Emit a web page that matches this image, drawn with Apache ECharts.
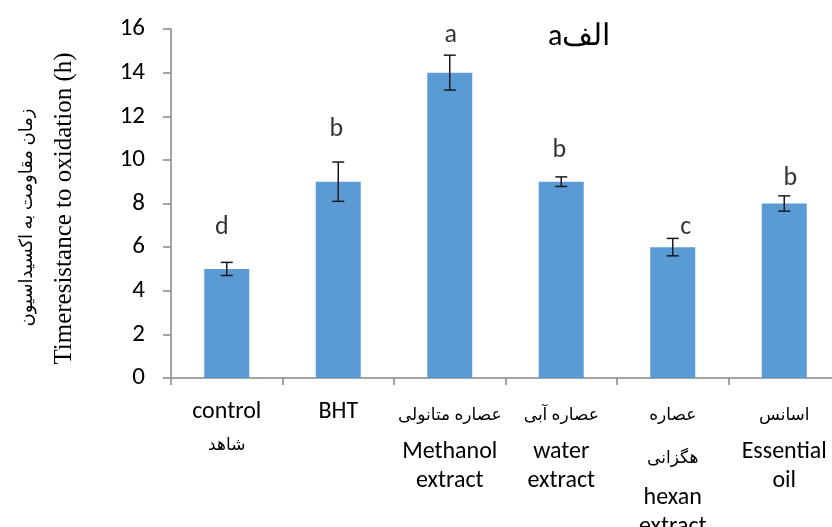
<!DOCTYPE html>
<html><head><meta charset="utf-8">
<script src="https://cdn.jsdelivr.net/npm/echarts@6/dist/echarts.min.js"></script>
<style>html,body{margin:0;padding:0;background:#fff}#c{width:832px;height:527px}</style>
</head><body><div id="c"></div>
<script>
// ---- data ----
const categories = ['control\nشاهد', 'BHT', 'عصاره متانولی\nMethanol\nextract', 'عصاره آبی\nwater\nextract', 'عصاره\nهگزانی\nhexan\nextract', 'اسانس\nEssential\noil'];
const values = [5, 9, 14, 9, 6, 8];
const errors = [0.3, 0.9, 0.8, 0.22, 0.4, 0.35];
const letters = ['d', 'b', 'a', 'b', 'c', 'b'];
const letterHeights = [6.9, 11.4, 15.7, 10.45, 6.9, 9.15];
const yMin = 0, yMax = 16, yStep = 2;
const titleText = 'الفa';
const yNameFa = 'زمان مقاومت به اکسیداسیون';
const yNameEn = 'Timeresistance to oxidation (h)';

// ---- styling ----
const EN = 'Carlito, Lato, "Open Sans", sans-serif';
const FA = '"Liberation Serif", "DejaVu Sans", serif';
const letterOffsets = [[-5, 0], [-2, 0], [1, 0], [-2, 0], [13, 0], [6, 0]];
const isFa = s => /[\u0600-\u06FF]/.test(s);

const chart = echarts.init(document.getElementById('c'), null, {renderer: 'canvas'});
chart.setOption({
  animation: false,
  backgroundColor: '#fff',
  title: {
    text: '\u202B' + titleText + '\u202C',
    left: 543, top: 17,
    textStyle: {fontFamily: EN, fontSize: 30, fontWeight: 'normal', color: '#000'}
  },
  grid: {left: 171, right: -8, top: 29, bottom: 149, containLabel: false, outerBoundsMode: 'none'},
  xAxis: {
    type: 'category',
    data: categories,
    axisLine: {lineStyle: {color: '#868686', width: 1.5}},
    axisTick: {show: true, length: 7, interval: 0, lineStyle: {color: '#868686', width: 1.5}},
    axisLabel: {
      interval: 0, margin: 18, color: '#000', hideOverlap: false,
      formatter: (val) => {
        const lines = val.split('\n');
        return lines.map((l, i) => {
          const fa = isFa(l);
          let st;
          if (i === 0) st = fa ? 'fa1' : 'en1';
          else {
            const pf = isFa(lines[i - 1]);
            st = fa ? (pf ? 'faFa' : 'faEn') : (pf ? 'enFa' : 'enEn');
          }
          return '{' + st + '|' + l + '}';
        }).join('\n');
      },
      rich: {
        en1: {fontFamily: EN, fontSize: 24, lineHeight: 32, color: '#000'},
        fa1: {fontFamily: FA, fontSize: 17, lineHeight: 40, color: '#000'},
        faEn: {fontFamily: FA, fontSize: 17, lineHeight: 36, color: '#000'},
        faFa: {fontFamily: FA, fontSize: 17, lineHeight: 46, color: '#000'},
        enFa: {fontFamily: EN, fontSize: 24, lineHeight: 32, color: '#000'},
        enEn: {fontFamily: EN, fontSize: 24, lineHeight: 26, color: '#000'}
      }
    },
    splitLine: {show: false}
  },
  yAxis: {
    type: 'value', min: yMin, max: yMax, interval: yStep,
    axisLine: {show: true, lineStyle: {color: '#868686', width: 1.5}},
    axisTick: {show: true, length: 8, lineStyle: {color: '#868686', width: 1.5}},
    axisLabel: {margin: 26, color: '#000', fontFamily: EN, fontSize: 25},
    splitLine: {show: false},
    name: '{fa|' + yNameFa + '}\n{en|' + yNameEn + '}',
    nameLocation: 'middle', nameRotate: 90, nameGap: 93,
    nameTextStyle: {
      rich: {
        fa: {fontFamily: FA, fontSize: 18, lineHeight: 46, color: '#000', padding: [0, 28, 0, 0]},
        en: {fontFamily: '"Liberation Serif", serif', fontSize: 25, lineHeight: 28, color: '#000', padding: [0, 10, 0, 0]}
      }
    }
  },
  series: [
    {
      type: 'bar', data: values, barWidth: 45,
      itemStyle: {color: '#5b9bd5'}, silent: true
    },
    {
      type: 'custom', silent: true, z: 5,
      data: values.map((v, i) => [i, v, errors[i]]),
      renderItem: (params, api) => {
        const i = api.value(0), v = api.value(1), e = api.value(2);
        const hi = api.coord([i, v + e]), lo = api.coord([i, v - e]);
        const cw = 6;
        const st = {stroke: '#1a1a1a', lineWidth: 1.5};
        return {type: 'group', children: [
          {type: 'line', shape: {x1: hi[0], y1: hi[1], x2: lo[0], y2: lo[1]}, style: st},
          {type: 'line', shape: {x1: hi[0] - cw, y1: hi[1], x2: hi[0] + cw, y2: hi[1]}, style: st},
          {type: 'line', shape: {x1: lo[0] - cw, y1: lo[1], x2: lo[0] + cw, y2: lo[1]}, style: st}
        ]};
      }
    },
    {
      type: 'scatter', silent: true, symbolSize: 1,
      itemStyle: {color: 'rgba(0,0,0,0)'},
      data: letterHeights.map((h, i) => ({
        value: [i, h],
        label: {show: true, position: 'inside', formatter: letters[i], offset: letterOffsets[i],
                fontFamily: EN, fontSize: 26, color: '#000'}
      }))
    }
  ]
});
</script></body></html>
